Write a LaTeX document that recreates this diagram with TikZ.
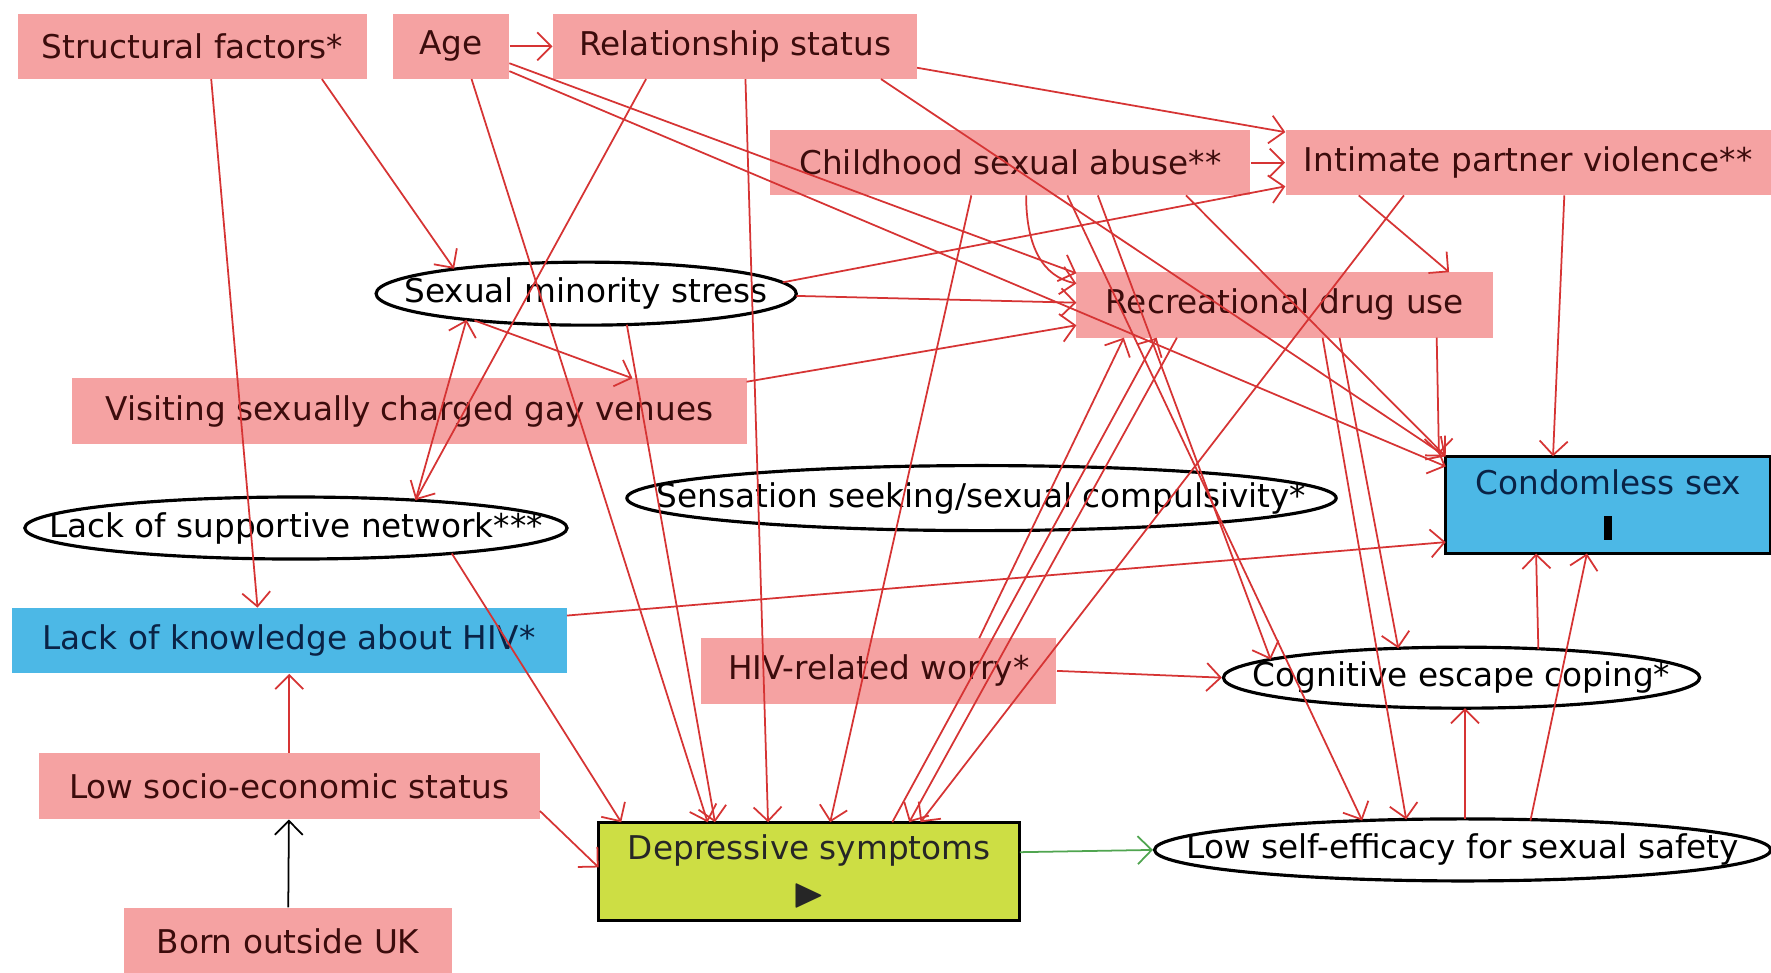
\documentclass[tikz,border=0pt]{standalone}
\usepackage{amsmath,amssymb}
\usepackage{fontspec}
\setmainfont{DejaVu Sans}
\usetikzlibrary{arrows.meta,shapes.geometric,calc}
\definecolor{dagpink}{RGB}{245,162,162}
\definecolor{dagblue}{RGB}{76,184,230}
\definecolor{daggreen}{RGB}{205,222,68}
\definecolor{dagred}{RGB}{214,52,52}
\definecolor{dagline}{RGB}{80,165,80}
\definecolor{dagtext}{RGB}{60,12,12}
\definecolor{dagnavy}{RGB}{10,35,70}

\begin{document}
\begin{tikzpicture}[x=0.1129mm,y=-0.1129mm,
      font=\fontsize{9.3}{11}\selectfont,
      var/.style={fill=dagpink,text=dagtext,minimum height=6.55mm,inner sep=0pt},
      latent/.style={ellipse,draw=black,line width=0.9pt,inner sep=0pt},
      outcome/.style={fill=dagblue,draw=black,line width=0.9pt,text=dagnavy,align=center,
                      minimum width=32.5mm,minimum height=9.7mm,inner sep=0pt},
      exposure/.style={fill=daggreen,draw=black,line width=0.9pt,text=black!85,align=center,
                       minimum width=42.1mm,minimum height=9.8mm,inner sep=0pt},
      arr/.style={-{Straight Barb[length=1.4mm,width=2.8mm]},draw=dagred,line width=0.5pt}]
    \fill[white] (0,0) rectangle (1568,861);
    \useasboundingbox (0,0) rectangle (1568,861);
    \node[var,minimum width=34.9mm] (struct) at (170.5,41) {Structural factors*};
    \node[var,minimum width=11.6mm] (age) at (399.5,41) {Age};
    \node[var,minimum width=36.4mm] (rel) at (651,41) {Relationship status};
    \node[var,minimum width=48mm] (csa) at (894.5,144) {Childhood sexual abuse**};
    \node[var,minimum width=48.5mm] (ipv) at (1353,144) {Intimate partner violence**};
    \node[latent,minimum width=42mm,minimum height=6.3mm,label=center:{Sexual minority stress}] (sms) at (519,260) {};
    \node[var,minimum width=41.7mm] (drug) at (1137.5,270) {Recreational drug use};
    \node[var,minimum width=67.4mm] (venues) at (362.5,364) {Visiting sexually charged gay venues};
    \node[latent,minimum width=70.9mm,minimum height=6.5mm,label=center:{Sensation seeking/sexual compulsivity*}] (sens) at (869,441) {};
    \node[outcome] (condom) at (1424,447) {Condomless sex\\[0.6mm]{\color{black}\rule{0.8mm}{2.4mm}}};
    \node[latent,minimum width=54.2mm,minimum height=6.2mm,label=center:{Lack of supportive network***}] (lacknet) at (262,467.5) {};
    \node[var,fill=dagblue,text=dagnavy,minimum width=55.5mm] (know) at (256,567) {Lack of knowledge about HIV*};
    \node[var,minimum width=35.5mm] (worry) at (778,594) {HIV-related worry*};
    \node[latent,minimum width=47.6mm,minimum height=6.1mm,label=center:{Cognitive escape coping*}] (cope) at (1294,600) {};
    \node[var,minimum width=50.1mm] (lowses) at (256,696) {Low socio-economic status};
    \node[exposure] (depr) at (716.5,771.5) {Depressive symptoms\\[0.9mm]{\large$\blacktriangleright$}};
    \node[latent,minimum width=61.6mm,minimum height=6.2mm,label=center:{Low self-efficacy for sexual safety}] (selfeff) at (1295,752.5) {};
    \node[var,minimum width=32.7mm] (born) at (255,833) {Born outside UK};
    \draw[arr] (age) -- (rel);
    \draw[arr] ($(age.center)+(18,29)$) -- ($(depr.center)+(-90,-43.5)$);
    \draw[arr] ($(age.center)+(51.5,15)$) -- ($(drug.center)+(-184.5,-28)$);
    \draw[arr] ($(age.center)+(51.5,22)$) -- ($(condom.center)+(-144,-34)$);
    \draw[arr] ($(struct.center)+(114.5,29)$) -- ($(sms.center)+(-117,-22)$);
    \draw[arr] ($(struct.center)+(16.5,29)$) -- ($(know.center)+(-28,-29)$);
    \draw[arr] ($(rel.center)+(161,19)$) -- ($(ipv.center)+(-215,-27)$);
    \draw[arr] ($(rel.center)+(9,29)$) -- ($(depr.center)+(-36.5,-43.5)$);
    \draw[arr] ($(rel.center)+(-79,29)$) -- ($(lacknet.center)+(106,-24.7)$);
    \draw[arr] ($(rel.center)+(129,29)$) -- ($(condom.center)+(-144,-43)$);
    \draw[arr] (csa) -- (ipv);
    \draw[arr] ($(csa.center)+(14,29)$) .. controls +(0,45) and +(-30,-6) .. ($(drug.center)+(-184.5,-19)$);
    \draw[arr] ($(csa.center)+(-34.5,29)$) -- ($(depr.center)+(18.5,-43.5)$);
    \draw[arr] ($(csa.center)+(77.5,29)$) -- ($(cope.center)+(-169,-16)$);
    \draw[arr] ($(csa.center)+(155.5,29)$) -- ($(condom.center)+(-144,-43)$);
    \draw[arr] ($(csa.center)+(50.5,29)$) -- ($(selfeff.center)+(-89,-26)$);
    \draw[arr] ($(ipv.center)+(-150,29)$) -- ($(drug.center)+(145.5,-29)$);
    \draw[arr] ($(ipv.center)+(-110,29)$) -- ($(depr.center)+(98.5,-43.5)$);
    \draw[arr] ($(ipv.center)+(32,29)$) -- ($(condom.center)+(-49,-43)$);
    \draw[arr] ($(sms.center)+(174,-10)$) -- ($(ipv.center)+(-215,21)$);
    \draw[arr] ($(sms.center)+(186,2)$) -- ($(drug.center)+(-184.5,-2)$);
    \draw[arr] ($(sms.center)+(36,27.5)$) -- ($(depr.center)+(-83.5,-43.5)$);
    \draw[arr] ($(sms.center)+(-99,23.7)$) -- ($(venues.center)+(197.5,-29)$);
    \draw[arr] ($(lacknet.center)+(106,-24.7)$) -- ($(sms.center)+(-106,23)$);
    \draw[arr] ($(lacknet.center)+(138,22.5)$) -- ($(depr.center)+(-166.5,-43.5)$);
    \draw[arr] ($(venues.center)+(298.5,-26)$) -- ($(drug.center)+(-184.5,18)$);
    \draw[arr] (lowses) -- (know);
    \draw[arr] ($(lowses.center)+(222,22)$) -- ($(depr.center)+(-186.5,-3.5)$);
    \draw[arr,draw=black] (born) -- (lowses);
    \draw[arr] ($(know.center)+(246,-22)$) -- ($(condom.center)+(-144,33)$);
    \draw[arr] (worry.east) -- (cope.west);
    \draw[arr,draw=dagline] ($(depr.center)+(186.5,-17)$) -- (selfeff.west);
    \draw[arr] ($(selfeff.center)+(2,-27.5)$) -- ($(cope.center)+(3,27)$);
    \draw[arr] ($(selfeff.center)+(60,-26)$) -- ($(condom.center)+(-19,43)$);
    \draw[arr] ($(cope.center)+(68,-25.6)$) -- ($(condom.center)+(-64,43)$);
    \draw[arr] ($(drug.center)+(134.5,29)$) -- ($(condom.center)+(-150,-45)$);
    \draw[arr] ($(drug.center)+(48.5,29)$) -- ($(cope.center)+(-56,-26)$);
    \draw[arr] ($(drug.center)+(33.5,29)$) -- ($(selfeff.center)+(-50,-27)$);
    \draw[arr] ($(drug.center)+(-95.5,29)$) -- ($(depr.center)+(88.5,-43.5)$);
    \draw[arr] ($(worry.center)+(89,-29)$) -- ($(drug.center)+(-142.5,29)$);
    \draw[arr] ($(depr.center)+(73.5,-43.5)$) -- ($(drug.center)+(-113.5,29)$);
  \end{tikzpicture}
\end{document}
